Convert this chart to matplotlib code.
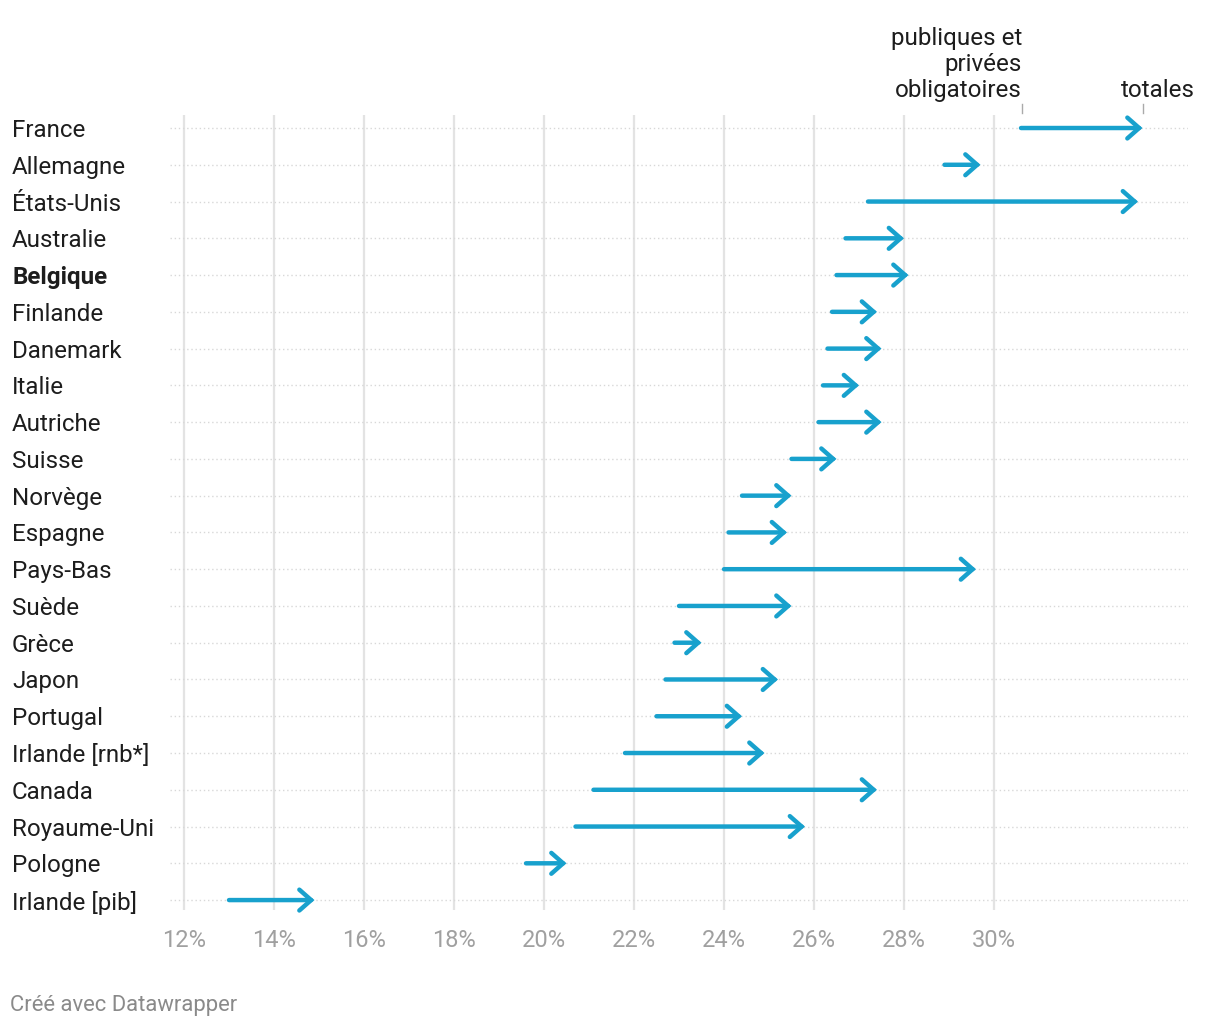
import matplotlib.pyplot as plt
import matplotlib.transforms as mtransforms

plt.rcParams['font.family'] = ['Roboto', 'DejaVu Sans']

pays = ["France", "Allemagne", "États-Unis", "Australie", "Belgique", "Finlande",
        "Danemark", "Italie", "Autriche", "Suisse", "Norvège", "Espagne", "Pays-Bas",
        "Suède", "Grèce", "Japon", "Portugal", "Irlande [rnb*]", "Canada",
        "Royaume-Uni", "Pologne", "Irlande [pib]"]
# dépenses sociales publiques et privées obligatoires (% du PIB)
obligatoires = [30.6, 28.9, 27.2, 26.7, 26.5, 26.4, 26.3, 26.2, 26.1, 25.5, 24.4, 24.1,
                24.0, 23.0, 22.9, 22.7, 22.5, 21.8, 21.1, 20.7, 19.6, 13.0]
# dépenses sociales totales (% du PIB)
totales = [33.3, 29.7, 33.2, 28.0, 28.1, 27.4, 27.5, 27.0, 27.5, 26.5, 25.5, 25.4,
           29.6, 25.5, 23.5, 25.2, 24.4, 24.9, 27.4, 25.8, 20.5, 14.9]
ticks = [12, 14, 16, 18, 20, 22, 24, 26, 28, 30]

W, H = 1220, 1028
fig = plt.figure(figsize=(W / 100, H / 100), dpi=100)
ax = fig.add_axes([170 / W, 1 - 910 / H, (1188 - 170) / W, (910 - 115) / H])

x0 = 12 - 14 / 45
x1 = 12 + 1004 / 45
ax.set_xlim(x0, x1)
ax.set_ylim(len(pays) - 1 + 0.27, -0.354)

ax.vlines(ticks, -0.354, len(pays) - 1 + 0.27, color='#e3e3e3', lw=1.6, zorder=1)
for i in range(len(pays)):
    ax.axhline(i, color='#d8d8d8', lw=1, ls=(0, (1, 2)), zorder=1)

bleu = '#18a1cd'
for i, (a, b) in enumerate(zip(obligatoires, totales)):
    ax.annotate('', xy=(b, i), xytext=(a, i),
                arrowprops=dict(arrowstyle='->,head_length=0.85,head_width=0.75',
                                lw=3.2, color=bleu, shrinkA=0, shrinkB=0,
                                capstyle='round', joinstyle='miter'),
                zorder=3)

for s in ax.spines.values():
    s.set_visible(False)
ax.set_yticks([])
ax.set_xticks(ticks)
ax.set_xticklabels([f"{t}%" for t in ticks], fontsize=17, color='#a0a0a0')
ax.tick_params(axis='x', length=0, pad=14)

trans = mtransforms.blended_transform_factory(fig.transFigure, ax.transData)
for i, p in enumerate(pays):
    ax.text(12 / W, i, p, transform=trans, ha='left', va='center_baseline', fontsize=17.4,
            color='#1d1d1d', fontweight='bold' if p == "Belgique" else 'normal')

# légende en tête
ax.text(obligatoires[0] + 0.02, -0.72, "publiques et\nprivées\nobligatoires", ha='right',
        va='bottom', fontsize=17.4, color='#1d1d1d', linespacing=1.15, clip_on=False)
ax.text(1195 / W, -0.72, "totales", transform=trans, ha='right', va='bottom',
        fontsize=17.4, color='#1d1d1d', clip_on=False)
for xv in (obligatoires[0], totales[0]):
    ax.plot([xv + 0.02, xv + 0.02], [-0.4, -0.65], color='#aaaaaa', lw=1, clip_on=False)

fig.text(10 / W, 1 - 1005 / H, "Créé avec Datawrapper", fontsize=15.8, color='#8a8a8a',
         ha='left', va='center')

fig.savefig("out.png", dpi=100)
